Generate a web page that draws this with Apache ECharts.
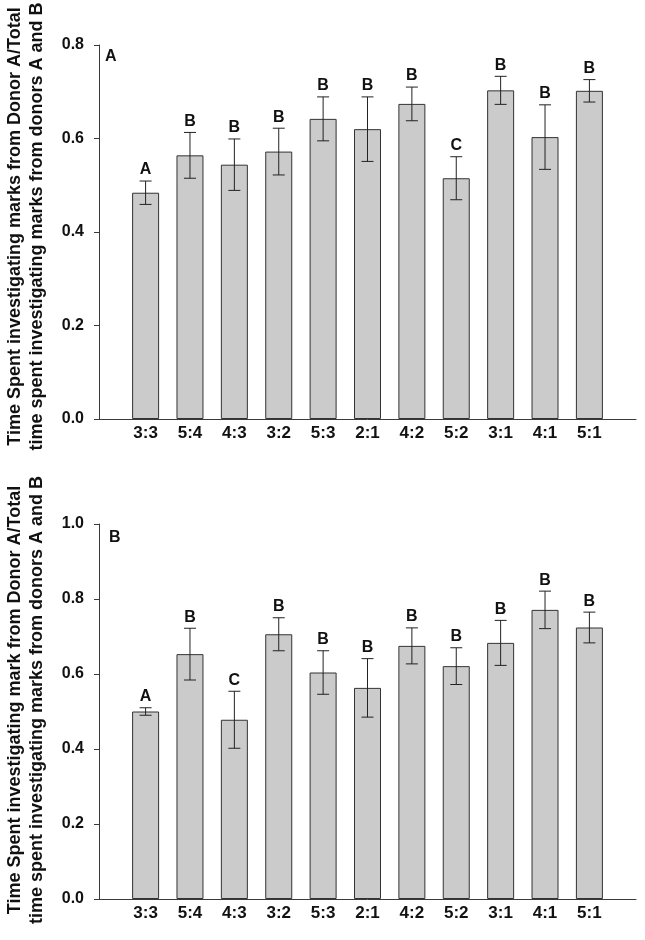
<!DOCTYPE html>
<html>
<head>
<meta charset="utf-8">
<script src="https://cdn.jsdelivr.net/npm/echarts@6/dist/echarts.min.js"></script>
<style>
  html, body { margin: 0; padding: 0; background: #fff; }
  #chart { width: 645px; height: 940px; }
</style>
</head>
<body>
<div id="chart"></div>
<script>
// data
const categories = ['3:3', '5:4', '4:3', '3:2', '5:3', '2:1', '4:2', '5:2', '3:1', '4:1', '5:1'];

// panel A
const meanA = [0.484, 0.564, 0.544, 0.572, 0.642, 0.620, 0.674, 0.515, 0.703, 0.603, 0.702];
const errA = [0.025, 0.049, 0.055, 0.050, 0.047, 0.069, 0.036, 0.046, 0.030, 0.069, 0.024];
const lettersA = ['A', 'B', 'B', 'B', 'B', 'B', 'B', 'C', 'B', 'B', 'B'];
const yTicksA = [0, 0.2, 0.4, 0.6, 0.8];

// panel B
const meanB = [0.500, 0.653, 0.478, 0.706, 0.604, 0.563, 0.675, 0.621, 0.683, 0.771, 0.724];
const errB = [0.010, 0.069, 0.076, 0.044, 0.058, 0.078, 0.048, 0.049, 0.060, 0.050, 0.041];
const lettersB = ['A', 'B', 'C', 'B', 'B', 'B', 'B', 'B', 'B', 'B', 'B'];
const yTicksB = [0, 0.2, 0.4, 0.6, 0.8, 1.0];

const titleA = 'Time Spent investigating marks from Donor A/Total\ntime spent investigating marks from donors A and B';
const titleB = 'Time Spent investigating mark from Donor A/Total\ntime spent investigating marks from donors A and B';

const FONT = 'Liberation Sans, Arial, sans-serif';
const AXIS_COLOR = '#3a3a3a';
const TEXT_COLOR = '#111';

const xAxisFor = (gridIndex) => ({
  type: 'value',
  gridIndex,
  min: -1.05,
  max: categories.length - 1 + 1.05,
  splitLine: { show: false },
  axisLine: { show: true, onZero: false, lineStyle: { color: AXIS_COLOR, width: 1 } },
  axisTick: { show: false },
  axisLabel: {
    customValues: categories.map((c, i) => i),
    formatter: (v) => categories[Math.round(v)] ?? '',
    color: TEXT_COLOR,
    fontFamily: FONT,
    fontWeight: 'bold',
    fontSize: 17,
    margin: 6,
  },
});

const yAxisFor = (gridIndex, ticks, name, shift) => ({
  type: 'value',
  gridIndex,
  min: ticks[0],
  max: ticks[ticks.length - 1],
  interval: ticks[1] - ticks[0],
  splitLine: { show: false },
  axisLine: { show: true, onZero: false, lineStyle: { color: AXIS_COLOR, width: 1 } },
  axisTick: { show: true, length: 5, lineStyle: { color: AXIS_COLOR } },
  axisLabel: {
    formatter: (v) => v.toFixed(1),
    color: TEXT_COLOR,
    fontFamily: FONT,
    fontWeight: 'bold',
    fontSize: 16,
    margin: 15,
  },
  name,
  nameLocation: 'middle',
  nameGap: 51,
  nameTextStyle: {
    color: TEXT_COLOR,
    fontFamily: FONT,
    fontWeight: 'bold',
    fontSize: 18,
    lineHeight: 22,
    padding: [0, 0, 0, shift],
  },
});

const barSeries = (idx, means) => ({
  type: 'bar',
  xAxisIndex: idx,
  yAxisIndex: idx,
  barWidth: 27,
  data: means.map((m, i) => [i, m]),
  itemStyle: { color: '#cbcbcb', borderColor: '#333', borderWidth: 1 },
  z: 2,
});

// error bars + letters above them
const errorSeries = (idx, means, errs, letters) => ({
  type: 'custom',
  xAxisIndex: idx,
  yAxisIndex: idx,
  data: means.map((m, i) => [i, m - errs[i], m + errs[i]]),
  z: 3,
  renderItem: (params, api) => {
    const x = api.value(0);
    const lo = api.coord([x, api.value(1)]);
    const hi = api.coord([x, api.value(2)]);
    const hw = 6;
    const st = { stroke: '#222', lineWidth: 1 };
    return {
      type: 'group',
      children: [
        { type: 'line', shape: { x1: lo[0], y1: lo[1], x2: hi[0], y2: hi[1] }, style: st },
        { type: 'line', shape: { x1: lo[0] - hw, y1: lo[1], x2: lo[0] + hw, y2: lo[1] }, style: st },
        { type: 'line', shape: { x1: hi[0] - hw, y1: hi[1], x2: hi[0] + hw, y2: hi[1] }, style: st },
        {
          type: 'text',
          style: {
            text: letters[params.dataIndex],
            x: hi[0],
            y: hi[1] - 3,
            align: 'center',
            verticalAlign: 'bottom',
            font: 'bold 16px ' + FONT,
            fill: TEXT_COLOR,
          },
        },
      ],
    };
  },
});

const option = {
  animation: false,
  backgroundColor: '#fff',
  title: [
    { text: 'A', left: 105, top: 49, padding: 0, textStyle: { fontFamily: FONT, fontWeight: 'bold', fontSize: 16, color: TEXT_COLOR } },
    { text: 'B', left: 109, top: 530, padding: 0, textStyle: { fontFamily: FONT, fontWeight: 'bold', fontSize: 16, color: TEXT_COLOR } },
  ],
  grid: [
    { left: 99, right: 9, top: 45, height: 374, outerBoundsMode: 'none' },
    { left: 99, right: 9, top: 524, height: 375, outerBoundsMode: 'none' },
  ],
  xAxis: [xAxisFor(0), xAxisFor(1)],
  yAxis: [yAxisFor(0, yTicksA, titleA, 11), yAxisFor(1, yTicksB, titleB, 23)],
  series: [
    barSeries(0, meanA),
    errorSeries(0, meanA, errA, lettersA),
    barSeries(1, meanB),
    errorSeries(1, meanB, errB, lettersB),
  ],
};

const chart = echarts.init(document.getElementById('chart'), null, { renderer: 'canvas' });
chart.setOption(option);
</script>
</body>
</html>
